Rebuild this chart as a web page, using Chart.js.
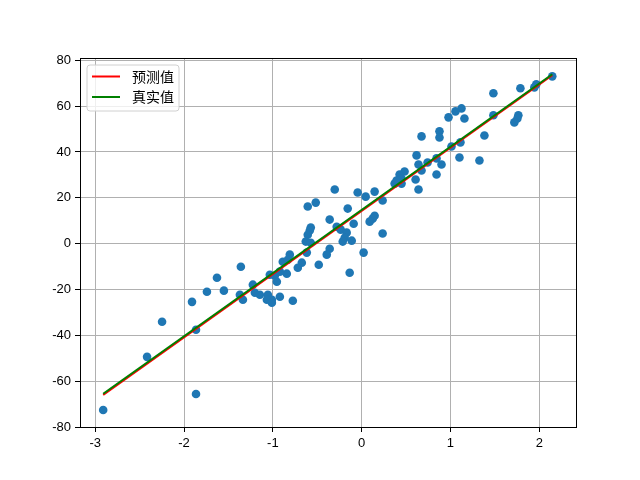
<!DOCTYPE html>
<html>
<head>
<meta charset="utf-8">
<script src="https://cdn.jsdelivr.net/npm/chart.js"></script>
<style>
  html, body { margin: 0; padding: 0; background: #fff; }
  #chart { display: block; }
</style>
</head>
<body>
<canvas id="chart" width="640" height="480"></canvas>
<script>
// scatter points
var xValues = [
  2.146, 1.966, 1.944, 1.787, 1.483, 1.124, 1.056, 0.978, 1.157, 1.483,
  1.764, 1.753, 1.719, 0.674, 0.876, 0.876, 1.382, 1.011, 1.112, 0.618,
  1.101, 1.326, 0.843, 0.899, 0.640, 0.674, 0.742, 0.483, 0.427, 0.607,
  0.843, 0.640, 0.449, 0.449, 0.371, 0.393, -0.303, -0.045, 0.045, 0.146,
  0.236, -0.607, -0.517, -0.157, -0.360, 0.146, 0.124, 0.090, -0.090, -0.573,
  -0.584, -0.607, -0.281, -0.236, -0.169, -0.191, 0.236, -0.629, -0.573, -0.213,
  -0.112, -0.360, -0.393, -0.809, -0.888, -0.831, -0.618, 0.022, -0.674, -0.719,
  -0.483, -0.135, -0.843, -0.921, -0.978, -0.955, -1.034, -1.360, -1.629, -1.742,
  -1.551, -1.910, -1.337, -1.225, -1.202, -1.146, -1.056, -1.011, -1.067, -0.921,
  -0.775, -1.371, -2.247, -2.416, -1.865, -2.910, -1.865, -1.011
];
var yValues = [
  73.0, 69.5, 68.2, 67.8, 65.6, 59.0, 57.7, 55.1, 54.6, 56.0,
  56.0, 54.6, 52.9, 46.8, 49.0, 46.3, 47.2, 42.4, 44.2, 38.5,
  37.6, 36.3, 37.2, 34.5, 34.5, 31.9, 35.4, 31.5, 30.2, 28.0,
  30.2, 23.6, 26.2, 28.4, 26.2, 27.5, 23.6, 22.3, 20.5, 22.7,
  18.8, 16.2, 17.9, 15.3, 10.5, 12.2, 10.9, 9.6, 8.7, 7.0,
  5.7, 3.9, 7.4, 6.1, 4.8, 2.6, 4.4, 0.9, 0.4, 0.9,
  1.3, -2.2, -4.8, -4.8, -7.9, -7.0, -3.9, -3.9, -8.3, -10.5,
  -9.2, -12.7, -13.1, -12.2, -14.0, -16.6, -13.6, -10.1, -14.9, -21.0,
  -20.5, -25.4, -24.5, -17.9, -21.4, -22.3, -22.3, -24.5, -24.5, -23.2,
  -24.9, -22.3, -34.1, -49.4, -37.6, -72.6, -65.6, -25.8
];

// fitted lines
var lineX = [-2.910, 2.146];
var predictedY = [-66.0, 73.5];
var trueY = [-65.5, 73.9];

var seriesLabels = ['预测值', '真实值'];

function toPoints(xs, ys) {
  return xs.map(function (x, i) { return { x: x, y: ys[i] }; });
}

// draws the four black spines round the plot area
var spinesPlugin = {
  id: 'spines',
  afterDraw: function (chart) {
    var a = chart.chartArea, ctx = chart.ctx;
    ctx.save();
    ctx.strokeStyle = '#000';
    ctx.lineWidth = 1;
    ctx.strokeRect(Math.round(a.left) + 0.5, Math.round(a.top) + 0.5,
      Math.round(a.right - a.left), Math.round(a.bottom - a.top));
    ctx.restore();
  }
};

// matplotlib-style legend inside the upper left corner
var boxLegendPlugin = {
  id: 'boxLegend',
  afterDraw: function (chart) {
    var a = chart.chartArea, ctx = chart.ctx;
    var items = chart.data.datasets.filter(function (d) { return d.inLegend; });
    var x = a.left + 7, y = a.top + 7, w = 92, h = 46, r = 3;
    ctx.save();
    ctx.beginPath();
    ctx.moveTo(x + r, y);
    ctx.arcTo(x + w, y, x + w, y + h, r);
    ctx.arcTo(x + w, y + h, x, y + h, r);
    ctx.arcTo(x, y + h, x, y, r);
    ctx.arcTo(x, y, x + w, y, r);
    ctx.closePath();
    ctx.fillStyle = 'rgba(255,255,255,0.8)';
    ctx.fill();
    ctx.strokeStyle = '#d0d0d0';
    ctx.lineWidth = 1;
    ctx.stroke();
    ctx.font = '14px "Noto Sans CJK SC", sans-serif';
    ctx.textBaseline = 'middle';
    items.forEach(function (d, i) {
      var ly = y + 11.5 + i * 20.5;
      ctx.beginPath();
      ctx.moveTo(x + 5, ly);
      ctx.lineTo(x + 33, ly);
      ctx.strokeStyle = d.borderColor;
      ctx.lineWidth = 2;
      ctx.stroke();
      ctx.fillStyle = '#000';
      ctx.fillText(d.label, x + 45, ly);
    });
    ctx.restore();
  }
};

var tickFont = { family: '"Liberation Sans", Arial, sans-serif', size: 13 };

var ctx = document.getElementById('chart').getContext('2d');
var chart = new Chart(ctx, {
  type: 'scatter',
  data: {
    datasets: [
      {
        label: 'data',
        data: toPoints(xValues, yValues),
        backgroundColor: '#1f77b4',
        borderColor: '#1f77b4',
        pointRadius: 4.3,
        pointHoverRadius: 4.3,
        borderWidth: 0,
        order: 3
      },
      {
        label: seriesLabels[0],
        inLegend: true,
        data: toPoints(lineX, predictedY),
        showLine: true,
        borderColor: '#ff0000',
        backgroundColor: '#ff0000',
        borderWidth: 2,
        pointRadius: 0,
        order: 2
      },
      {
        label: seriesLabels[1],
        inLegend: true,
        data: toPoints(lineX, trueY),
        showLine: true,
        borderColor: '#008000',
        backgroundColor: '#008000',
        borderWidth: 2,
        pointRadius: 0,
        order: 1
      }
    ]
  },
  options: {
    responsive: false,
    animation: false,
    layout: { padding: { top: 58, right: 64, left: 0, bottom: 0 } },
    plugins: {
      legend: { display: false },
      tooltip: { enabled: false }
    },
    scales: {
      x: {
        type: 'linear',
        min: -3.171,
        max: 2.413,
        afterFit: function (s) { s.height = 53; },
        grid: { color: '#b0b0b0', lineWidth: 1, tickColor: '#000', tickLength: 5 },
        border: { display: true, color: '#000' },
        ticks: { stepSize: 1, includeBounds: false, color: '#000', font: tickFont, padding: 4 }
      },
      y: {
        type: 'linear',
        min: -80,
        max: 81,
        afterFit: function (s) { s.width = 80; },
        grid: { color: '#b0b0b0', lineWidth: 1, tickColor: '#000', tickLength: 5 },
        border: { display: true, color: '#000' },
        ticks: { stepSize: 20, includeBounds: false, color: '#000', font: tickFont, padding: 4 }
      }
    }
  },
  plugins: [spinesPlugin, boxLegendPlugin]
});
</script>
</body>
</html>
